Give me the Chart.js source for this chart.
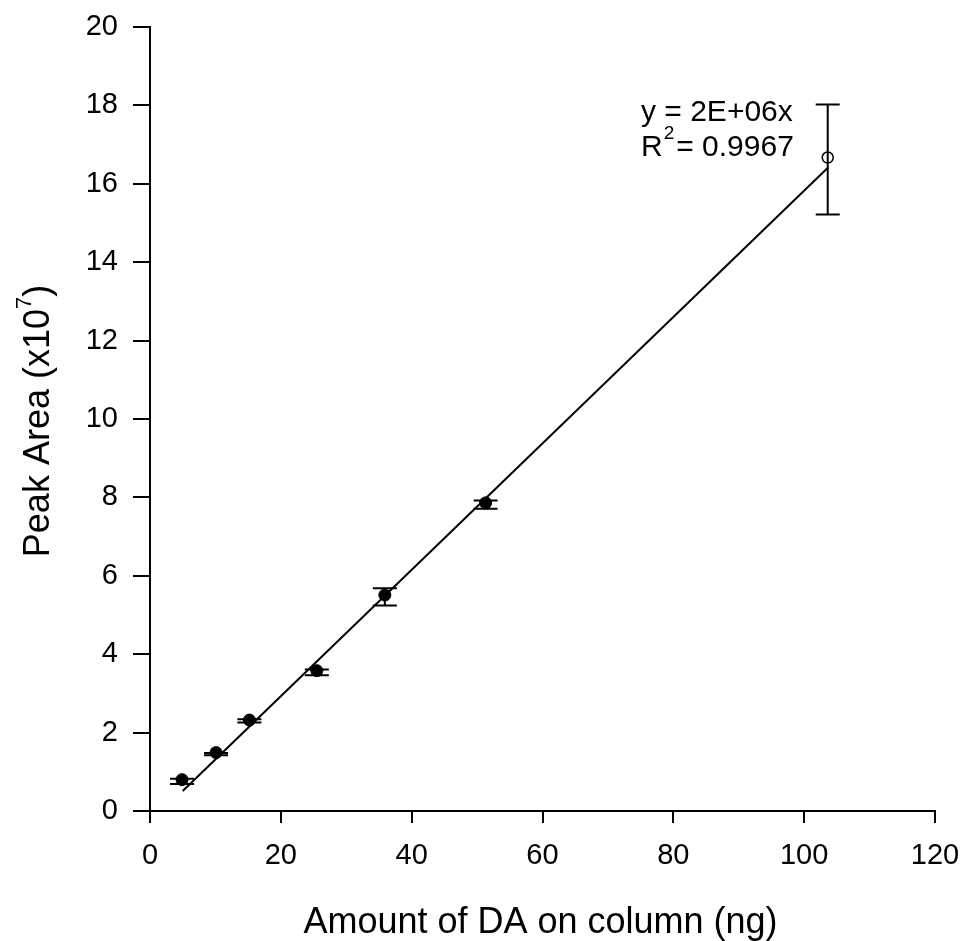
<!DOCTYPE html>
<html lang="en">
<head>
    <meta charset="UTF-8">
    <title>Peak Area vs Amount of DA</title>
    <script src="https://cdn.jsdelivr.net/npm/chart.js"></script>
    <style>
        body { margin: 0; background: #fff; }
        canvas { display: block; }
    </style>
</head>
<body>
    <canvas id="calibChart" width="965" height="941"></canvas>

    <script>
        // standards (filled circles), with error bar ends
        const amountDA = [4.9, 10.1, 15.2, 25.5, 35.9, 51.3];
        const peakArea = [0.80, 1.49, 2.32, 3.58, 5.51, 7.86];
        const peakAreaLow = [0.69, 1.42, 2.26, 3.46, 5.24, 7.71];
        const peakAreaHigh = [0.82, 1.48, 2.34, 3.61, 5.68, 7.92];

        // high point (open circle)
        const amountDAHigh = [103.6];
        const peakAreaHighPt = [16.67];
        const peakAreaHighPtLow = [15.22];
        const peakAreaHighPtHigh = [18.02];

        // fitted line ends
        const fitX = [5.0, 103.7];
        const fitY = [0.51, 16.42];

        const xTicks = [0, 20, 40, 60, 80, 100, 120];
        const yTicks = [0, 2, 4, 6, 8, 10, 12, 14, 16, 18, 20];

        const FONT = '"Liberation Sans", Arial, sans-serif';

        const toPoints = (xs, ys) => xs.map((x, i) => ({ x: x, y: ys[i] }));

        // error bars drawn from the low/high arrays
        const errorBars = {
            id: 'errorBars',
            beforeDatasetsDraw(chart) {
                const ctx = chart.ctx;
                const xs = chart.scales.x, ys = chart.scales.y;
                const sets = [
                    [amountDA, peakAreaLow, peakAreaHigh],
                    [amountDAHigh, peakAreaHighPtLow, peakAreaHighPtHigh]
                ];
                ctx.save();
                ctx.strokeStyle = '#000';
                ctx.lineWidth = 2;
                sets.forEach(([xv, lo, hi]) => {
                    xv.forEach((x, i) => {
                        const px = xs.getPixelForValue(x);
                        const pLo = ys.getPixelForValue(lo[i]);
                        const pHi = ys.getPixelForValue(hi[i]);
                        ctx.beginPath();
                        ctx.moveTo(px, pLo); ctx.lineTo(px, pHi);
                        ctx.moveTo(px - 12, pLo); ctx.lineTo(px + 12, pLo);
                        ctx.moveTo(px - 12, pHi); ctx.lineTo(px + 12, pHi);
                        ctx.stroke();
                    });
                });
                ctx.restore();
            }
        };

        // axis titles and fit equation (need superscripts)
        const labels = {
            id: 'labels',
            afterDraw(chart) {
                const ctx = chart.ctx;
                const area = chart.chartArea;
                ctx.save();
                ctx.fillStyle = '#000';
                ctx.textBaseline = 'alphabetic';

                // x title
                ctx.font = '36px ' + FONT;
                ctx.textAlign = 'center';
                ctx.fillText('Amount of DA on column (ng)', (area.left + area.right) / 2 - 2, area.bottom + 122);

                // y title, rotated
                ctx.textAlign = 'left';
                const main = 'Peak Area (x10';
                ctx.font = '36px ' + FONT;
                const wMain = ctx.measureText(main).width;
                const wClose = ctx.measureText(')').width;
                ctx.font = '22px ' + FONT;
                const wSup = ctx.measureText('7').width;
                const total = wMain + wSup + wClose;
                const cy = (area.top + area.bottom) / 2 + 2;
                ctx.translate(49, cy + total / 2);
                ctx.rotate(-Math.PI / 2);
                ctx.font = '36px ' + FONT;
                ctx.fillText(main, 0, 0);
                ctx.font = '22px ' + FONT;
                ctx.fillText('7', wMain, -18);
                ctx.font = '36px ' + FONT;
                ctx.fillText(')', wMain + wSup, 0);
                ctx.setTransform(1, 0, 0, 1, 0, 0);

                // equation
                const ex = 641;
                ctx.font = '30px ' + FONT;
                ctx.fillText('y = 2E+06x', ex, 121);
                ctx.fillText('R', ex, 156);
                const wR = ctx.measureText('R').width;
                ctx.font = '19px ' + FONT;
                ctx.fillText('2', ex + wR + 1, 139);
                const w2 = ctx.measureText('2').width;
                ctx.font = '30px ' + FONT;
                ctx.fillText('= 0.9967', ex + wR + w2 + 3, 156);
                ctx.restore();
            }
        };

        new Chart(document.getElementById('calibChart'), {
            type: 'scatter',
            data: {
                datasets: [
                    {
                        type: 'line',
                        label: 'Fit',
                        data: toPoints(fitX, fitY),
                        borderColor: '#000',
                        borderWidth: 2,
                        pointRadius: 0,
                        fill: false,
                        tension: 0
                    },
                    {
                        label: 'Standards',
                        data: toPoints(amountDA, peakArea),
                        backgroundColor: '#000',
                        borderColor: '#000',
                        pointRadius: 6,
                        pointBorderWidth: 1
                    },
                    {
                        label: 'High',
                        data: toPoints(amountDAHigh, peakAreaHighPt),
                        backgroundColor: 'rgba(0,0,0,0)',
                        borderColor: '#000',
                        pointRadius: 5.5,
                        pointBorderWidth: 1.5
                    }
                ]
            },
            options: {
                responsive: false,
                animation: false,
                layout: { padding: { top: 27, right: 30, left: 0, bottom: 0 } },
                plugins: {
                    legend: { display: false },
                    tooltip: { enabled: false }
                },
                scales: {
                    x: {
                        type: 'linear',
                        min: 0,
                        max: 120,
                        afterBuildTicks: (scale) => { scale.ticks = xTicks.map(v => ({ value: v })); },
                        afterFit: (scale) => {
                            scale.height = 130;
                            scale.paddingLeft = 0;
                            scale.paddingRight = 0;
                        },
                        ticks: {
                            color: '#000',
                            font: { family: FONT, size: 29 },
                            padding: 16,
                            maxRotation: 0
                        },
                        grid: {
                            drawOnChartArea: false,
                            drawTicks: true,
                            tickLength: 12,
                            color: '#000',
                            lineWidth: 2
                        },
                        border: { color: '#000', width: 2 }
                    },
                    y: {
                        type: 'linear',
                        min: 0,
                        max: 20,
                        afterBuildTicks: (scale) => { scale.ticks = yTicks.map(v => ({ value: v })); },
                        afterFit: (scale) => {
                            scale.width = 150;
                            scale.paddingTop = 0;
                            scale.paddingBottom = 0;
                        },
                        ticks: {
                            color: '#000',
                            font: { family: FONT, size: 29 },
                            padding: 15
                        },
                        grid: {
                            drawOnChartArea: false,
                            drawTicks: true,
                            tickLength: 17,
                            color: '#000',
                            lineWidth: 2
                        },
                        border: { color: '#000', width: 2 }
                    }
                }
            },
            plugins: [errorBars, labels]
        });
    </script>
</body>
</html>
